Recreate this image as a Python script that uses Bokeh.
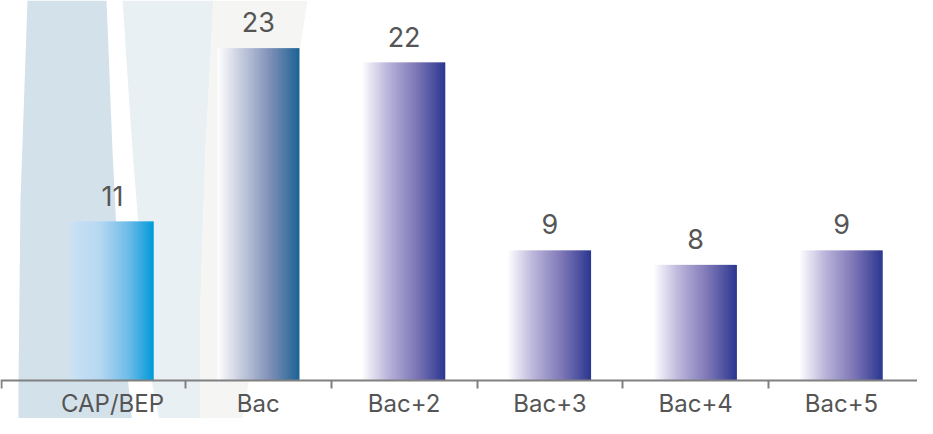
from bokeh.plotting import figure
from bokeh.models import Range1d, FixedTicker, ColumnDataSource
from bokeh.core.properties import value
from bokeh.embed import file_html
from bokeh.resources import INLINE

# ---- data ----
categories = ["CAP/BEP", "Bac", "Bac+2", "Bac+3", "Bac+4", "Bac+5"]
values = [11, 23, 22, 9, 8, 9]

# gradient stops (position, colour) left -> right for each bar
grad_cap = [(0.0, "#c9e1f4"), (0.35, "#b6d8f2"), (0.7, "#6cbbe8"), (1.0, "#009ad9")]
grad_bac = [(0.0, "#ffffff"), (0.3, "#c3cadd"), (0.65, "#7d8fb7"), (1.0, "#1b6394")]
grad_sup = [(0.0, "#fbfbfe"), (0.3, "#bab5da"), (0.65, "#7d76b6"), (1.0, "#2b3790")]
bar_gradients = [grad_cap, grad_bac, grad_sup, grad_sup, grad_sup, grad_sup]

# decorative background bands (pixel-space sketch of the swooshes: x_px, y_px)
decor_a = ([27, 106, 112, 116, 128, 133, 18, 18, 20], [0, 0, 150, 230, 385, 434, 434, 385, 200])
decor_b = ([122, 213, 205, 200, 200, 162, 152, 140, 132], [0, 0, 150, 300, 434, 434, 385, 250, 150])
decor_c = ([213, 307, 240, 200, 200, 205], [0, 0, 434, 434, 300, 150])
decor_colors = ["#d3e1ea", "#e8f0f4", "#f5f5f3"]

FONT = "Inter"
W, H = 917, 418
px_per_x = 145.8
x0_px = 112.0       # canvas px of first category centre
base_px = 380.0     # canvas px of zero line
px_per_y = 14.45

x_start = -x0_px / px_per_x
x_end = (W - x0_px) / px_per_x
y_end = base_px / px_per_y
y_start = -(H - base_px) / px_per_y

p = figure(width=W, height=H, output_backend="svg", toolbar_location=None,
           x_range=Range1d(x_start, x_end), y_range=Range1d(y_start, y_end),
           min_border=0, min_border_left=0, min_border_right=0,
           min_border_top=0, min_border_bottom=0)
p.outline_line_color = None
p.background_fill_color = "white"
p.border_fill_color = "white"
p.xgrid.visible = False
p.ygrid.visible = False
p.yaxis.visible = False

def to_data(xs, ys):
    return ([(x - x0_px) / px_per_x for x in xs], [(base_px - y) / px_per_y for y in ys])

for (xs, ys), col in zip([decor_a, decor_b, decor_c], decor_colors):
    dx, dy = to_data(xs, ys)
    p.patch(dx, dy, fill_color=col, line_color=None)

# ---- gradient bars built from strips ----
def interp(stops, t):
    for (t0, c0), (t1, c1) in zip(stops[:-1], stops[1:]):
        if t <= t1:
            f = (t - t0) / (t1 - t0) if t1 > t0 else 0
            a = [int(c0[k:k + 2], 16) for k in (1, 3, 5)]
            b = [int(c1[k:k + 2], 16) for k in (1, 3, 5)]
            return "#%02x%02x%02x" % tuple(round(a[j] + (b[j] - a[j]) * f) for j in range(3))
    return stops[-1][1]

bw = 0.565
N = 48
L, R, T, B, C = [], [], [], [], []
for i, v in enumerate(values):
    stops = bar_gradients[i]
    left0 = i - bw / 2
    step = bw / N
    for k in range(N):
        l = left0 + k * step
        r = min(l + step * 1.7, i + bw / 2)
        L.append(l); R.append(r); B.append(0); T.append(v)
        C.append(interp(stops, (k + 0.5) / N))
p.quad(left=L, right=R, bottom=B, top=T, fill_color=C, line_color=None)

# value labels
src = ColumnDataSource(dict(x=list(range(len(values))), y=values, t=[str(v) for v in values]))
p.text(x="x", y="y", text="t", source=src, text_align="center", text_baseline="alphabetic",
       y_offset=-26, text_font=value(FONT), text_font_size="27px", text_color="#555555")

# axis
ax = p.xaxis[0]
ax.fixed_location = 0
ax.ticker = FixedTicker(ticks=list(range(len(categories))),
                        minor_ticks=[x_start + 0.004] + [i + 0.5 for i in range(len(categories) - 1)])
ax.major_label_overrides = {i: c for i, c in enumerate(categories)}
ax.major_tick_line_color = None
ax.major_tick_out = 0
ax.major_tick_in = 0
ax.minor_tick_out = 8
ax.minor_tick_in = 0
ax.minor_tick_line_color = "#808080"
ax.minor_tick_line_width = 2
ax.axis_line_color = "#808080"
ax.axis_line_width = 2
ax.major_label_text_font = FONT
ax.major_label_text_font_size = "24px"
ax.major_label_text_color = "#555555"
ax.major_label_standoff = 0

open("out.html", "w").write(file_html(p, INLINE))
